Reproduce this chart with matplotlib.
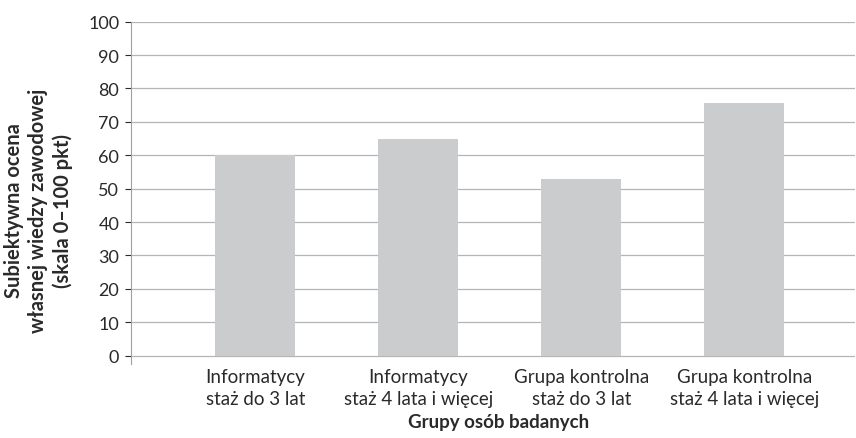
import matplotlib
matplotlib.use("Agg")
import matplotlib.pyplot as plt

# mean self-rated professional knowledge per group
groups = ["Informatycy\nstaż do 3 lat",
          "Informatycy\nstaż 4 lata i więcej",
          "Grupa kontrolna\nstaż do 3 lat",
          "Grupa kontrolna\nstaż 4 lata i więcej"]
scores = [60, 65, 53, 75.7]
y_ticks = [0, 10, 20, 30, 40, 50, 60, 70, 80, 90, 100]

plt.rcParams['font.family'] = ['Lato', 'DejaVu Sans']

fig = plt.figure(figsize=(8.56, 4.39), dpi=100)
ax = fig.add_axes([0.153, 0.1686, 0.846, 0.7797])

pos = list(range(len(groups)))
ax.bar(pos, scores, width=0.49, color="#cbcccd", zorder=2)

ax.set_ylim(-2.5, 100)
ax.set_xlim(-0.762, 3.68)
ax.set_yticks(y_ticks)
ax.set_xticks(pos)
ax.set_xticklabels([])
ax.tick_params(axis="y", labelsize=13, colors="#2a2a2a", length=4.5, width=0.8, pad=4)
for t in ax.get_yticklines():
    t.set_color("#a0a0a0")
ax.tick_params(axis="x", length=0)

# category labels under the bars (two lines each)
for p, g in zip(pos, groups):
    ax.text(p, -0.012, g, transform=ax.get_xaxis_transform(), ha="center",
            va="top", fontsize=13.5, color="#2a2a2a", linespacing=1.35)

ax.grid(axis="y", color="#b5b5b5", linewidth=0.9, zorder=1)
for s in ["top", "right", "bottom"]:
    ax.spines[s].set_visible(False)
ax.spines["left"].set_color("#a0a0a0")
ax.spines["left"].set_linewidth(0.8)

ax.set_xlabel("Grupy osób badanych", fontsize=13.5, fontweight="bold",
              color="#2a2a2a")
ax.xaxis.set_label_coords(0.507, -0.142)
ax.set_ylabel("Subiektywna ocena\nwłasnej wiedzy zawodowej\n(skala 0–100 pkt)",
              fontsize=14.5, fontweight="bold", color="#2a2a2a",
              linespacing=1.25)
ax.yaxis.set_label_coords(-0.08, 0.45)

fig.savefig("out.png", dpi=100)
